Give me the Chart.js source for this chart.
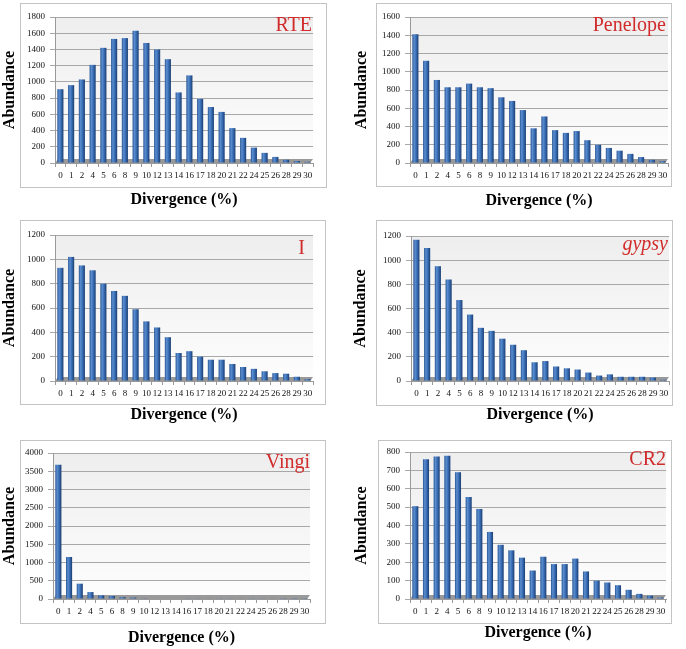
<!DOCTYPE html>
<html>
<head>
<meta charset="utf-8">
<style>
  body { margin: 0; background: #fff; }
  .panel { position: absolute; }
</style>
</head>
<body>
<div id="wrap"></div>
<script src="https://cdn.jsdelivr.net/npm/chart.js"></script>
<script>
// divergence classes shown on every x axis
const divergence = ['0','1','2','4','5','6','8','9','10','12','13','14','16','17','18','20','21','22','24','25','26','28','29','30'];

// abundance per family
const rte      = [910, 960, 1030, 1210, 1420, 1530, 1540, 1630, 1480, 1400, 1280, 870, 1080, 790, 690, 630, 430, 310, 190, 125, 75, 40, 25, 15];
const penelope = [1410, 1120, 910, 830, 830, 870, 830, 820, 720, 680, 580, 380, 510, 360, 330, 350, 250, 200, 165, 135, 100, 65, 35, 20];
const iFamily  = [930, 1020, 950, 910, 800, 740, 700, 590, 490, 440, 360, 230, 245, 200, 175, 175, 140, 115, 100, 80, 65, 60, 35, 15];
const gypsy    = [1170, 1100, 950, 840, 670, 550, 440, 415, 350, 300, 255, 155, 165, 120, 105, 95, 70, 45, 55, 35, 35, 35, 28, 10];
const vingi    = [3680, 1150, 420, 190, 100, 80, 50, 40, 20, 15, 15, 12, 10, 10, 10, 10, 10, 10, 10, 10, 10, 6, 5, 5];
const cr2      = [505, 760, 775, 780, 690, 555, 490, 365, 295, 265, 225, 155, 230, 190, 190, 220, 150, 100, 90, 75, 50, 28, 18, 8];

// y axis ranges
const yMax  = [1800, 1600, 1200, 1200, 4000, 800];
const yStep = [200, 200, 200, 200, 500, 100];

const names  = ['RTE', 'Penelope', 'I', 'gypsy', 'Vingi', 'CR2'];
const series = [rte, penelope, iFamily, gypsy, vingi, cr2];

// panel geometry (pixels, relative to each panel)
const panels = [
  { x: 0,   y: 0,   w: 343, h: 215, box: [20, 3, 326, 187], axisX: 55, ytc: 10, top: 17, zero: 163, right: 313, xtc: 200, nameR: 312, nameB: 31 },
  { x: 343, y: 0,   w: 343, h: 215, box: [33, 3, 328, 186], axisX: 67, ytc: 19, top: 17, zero: 163, right: 325, xtc: 201, nameR: 323, nameB: 31 },
  { x: 0,   y: 215, w: 343, h: 215, box: [20, 5, 325, 189], axisX: 55, ytc: 9,  top: 20, zero: 166, right: 313, xtc: 200, nameR: 305, nameB: 39 },
  { x: 343, y: 215, w: 343, h: 215, box: [33, 5, 329, 190], axisX: 68, ytc: 18, top: 21, zero: 166, right: 326, xtc: 200, nameR: 325, nameB: 35 },
  { x: 0,   y: 430, w: 343, h: 219, box: [20, 10, 325, 193], axisX: 53, ytc: 9,  top: 23, zero: 169, right: 310, xtc: 208, nameR: 310, nameB: 38 },
  { x: 343, y: 430, w: 343, h: 219, box: [35, 10, 328, 193], axisX: 67, ytc: 19, top: 22, zero: 169, right: 323, xtc: 203, nameR: 323, nameB: 35 }
];

const BAR_FRAC = 0.57;
const SERIF = '"Liberation Serif", "Times New Roman", serif';

function barFill(c) {
  const chart = c.chart;
  const xs = chart.scales.x;
  if (!xs || c.type !== 'data') return '#3a6db0';
  const cx = xs.getPixelForValue(c.dataIndex);
  const half = xs.width / divergence.length * BAR_FRAC / 2;
  if (!isFinite(cx) || !isFinite(half) || half <= 0) return '#3a6db0';
  const g = chart.ctx.createLinearGradient(cx - half, 0, cx + half, 0);
  g.addColorStop(0, '#2a5592');
  g.addColorStop(0.3, '#5a8dd0');
  g.addColorStop(0.6, '#3a6eb4');
  g.addColorStop(1, '#1a3d72');
  return g;
}

const decor = {
  id: 'decor',
  beforeDraw(chart, args, o) {
    const ctx = chart.ctx, a = chart.chartArea;
    if (!a) return;
    ctx.save();
    const b = o.box;
    ctx.strokeStyle = '#c4c4c4';
    ctx.lineWidth = 1;
    ctx.strokeRect(b[0] + 0.5, b[1] + 0.5, b[2] - b[0], b[3] - b[1]);
    const g = ctx.createLinearGradient(0, a.top, 0, a.bottom);
    g.addColorStop(0, '#eeeeee');
    g.addColorStop(1, '#fdfdfd');
    ctx.fillStyle = g;
    ctx.fillRect(a.left, a.top, a.right - a.left, a.bottom - a.top);
    ctx.restore();
  },
  beforeDatasetsDraw(chart) {
    const ctx = chart.ctx, a = chart.chartArea;
    ctx.save();
    ctx.fillStyle = '#999999';
    ctx.beginPath();
    ctx.moveTo(a.left, a.bottom);
    ctx.lineTo(a.right - 3, a.bottom);
    ctx.lineTo(a.right, a.bottom - 4);
    ctx.lineTo(a.left + 3, a.bottom - 4);
    ctx.closePath();
    ctx.fill();
    ctx.restore();
  },
  afterDraw(chart, args, o) {
    const ctx = chart.ctx;
    ctx.save();
    ctx.fillStyle = '#d12b2b';
    ctx.font = (o.italic ? 'italic ' : '') + '20px ' + SERIF;
    ctx.textAlign = 'right';
    ctx.textBaseline = 'alphabetic';
    ctx.fillText(o.name, o.nameR, o.nameB);
    ctx.restore();
  }
};

const wrap = document.getElementById('wrap');
panels.forEach((p, k) => {
  const div = document.createElement('div');
  div.className = 'panel';
  div.style.left = p.x + 'px';
  div.style.top = p.y + 'px';
  div.style.width = p.w + 'px';
  div.style.height = p.h + 'px';
  const cv = document.createElement('canvas');
  cv.width = p.w; cv.height = p.h;
  cv.style.width = p.w + 'px'; cv.style.height = p.h + 'px';
  div.appendChild(cv);
  wrap.appendChild(div);

  const padLeft = Math.max(0, p.ytc - 9.6);
  new Chart(cv, {
    type: 'bar',
    data: {
      labels: divergence,
      datasets: [{
        data: series[k],
        backgroundColor: barFill,
        borderWidth: 0,
        barPercentage: 0.6,
        categoryPercentage: 0.95
      }]
    },
    plugins: [decor],
    options: {
      responsive: false,
      animation: false,
      layout: { padding: { left: padLeft, top: p.top, right: p.w - p.right, bottom: 0 } },
      plugins: {
        legend: { display: false },
        tooltip: { enabled: false },
        decor: { box: p.box, name: names[k], italic: names[k] === 'gypsy', nameR: p.nameR, nameB: p.nameB }
      },
      scales: {
        x: {
          afterFit(s) { s.height = p.h - p.zero; },
          grid: { display: true, drawOnChartArea: false, tickLength: 4, color: '#9a9a9a' },
          border: { display: true, color: '#9a9a9a' },
          ticks: {
            autoSkip: false, maxRotation: 0, minRotation: 0, padding: 3,
            color: '#111',
            font: { family: SERIF, size: 9 }
          },
          title: {
            display: true, text: 'Divergence (%)', color: '#000',
            padding: { top: 0, bottom: p.h - p.xtc - 9.6 },
            font: { family: SERIF, size: 16, weight: 'bold' }
          }
        },
        y: {
          min: 0, max: yMax[k],
          afterFit(s) { s.width = p.axisX - padLeft; },
          grid: { color: '#a8a8a8', tickLength: 5 },
          border: { display: true, color: '#9a9a9a' },
          ticks: {
            stepSize: yStep[k], padding: 5, color: '#111',
            callback: v => String(v),
            font: { family: SERIF, size: 9 }
          },
          title: {
            display: true, text: 'Abundance', color: '#000',
            padding: { top: 0, bottom: 0 },
            font: { family: SERIF, size: 16, weight: 'bold' }
          }
        }
      }
    }
  });
});
</script>
</body>
</html>
